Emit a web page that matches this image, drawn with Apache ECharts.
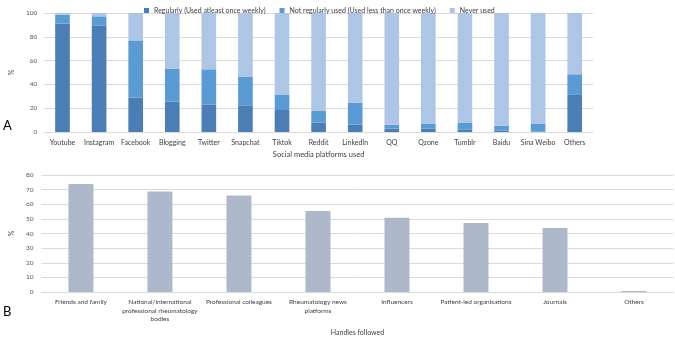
<!DOCTYPE html>
<html>
<head>
<meta charset="utf-8">
<script src="https://cdn.jsdelivr.net/npm/echarts@6/dist/echarts.min.js"></script>
<style>
  html, body { margin: 0; padding: 0; background: #fff; }
  #main { width: 675px; height: 337px; }
</style>
</head>
<body>
<div id="main"></div>
<script>
// panel A
const platforms = ['Youtube', 'Instagram', 'Facebook', 'Blogging', 'Twitter', 'Snapchat', 'Tiktok', 'Reddit', 'LinkedIn', 'QQ', 'Qzone', 'Tumblr', 'Baidu', 'Sina Weibo', 'Others']
const regularly = [91, 89.4, 28.9, 25.5, 23.2, 22.4, 18.5, 7.8, 6.2, 2.8, 2.8, 2.2, 1.1, 0.4, 31.7]
const notRegularly = [7.6, 7.8, 48.1, 27.7, 29.5, 23.8, 12.6, 9.8, 18.4, 3.4, 3.9, 5.4, 4.2, 6.3, 16.8]
const neverUsed = [1.4, 2.8, 23, 46.8, 47.3, 53.8, 68.9, 82.4, 75.4, 93.8, 93.3, 92.4, 94.7, 93.3, 51.5]

// panel B
const handles = ['Friends and family', 'National/international\nprofessional rheumatology\nbodies', 'Professional colleagues', 'Rheumatology news\nplatforms', 'Influencers', 'Patient-led organisations', 'Journals', 'Others']
const followed = [73.8, 68.7, 66, 55.3, 50.7, 47.1, 43.8, 0.7]

const font = 'Lato'
const txt = '#404040'

const chart = echarts.init(document.getElementById('main'))

function stack(name, data, color) {
  return {
    name: name,
    type: 'bar',
    stack: 'a',
    xAxisIndex: 0,
    yAxisIndex: 0,
    barWidth: '40%',
    itemStyle: { color: color },
    data: data
  }
}

chart.setOption({
  animation: false,
  textStyle: { fontFamily: font },
  legend: {
    top: 2,
    left: 139,
    itemWidth: 5,
    itemHeight: 5,
    itemGap: 14,
    icon: 'rect',
    textStyle: { fontSize: 7, color: txt, fontFamily: font },
    data: ['Regularly (Used atleast once weekly)', 'Not regularly used (Used less than once weekly)', 'Never used']
  },
  grid: [
    { left: 29, right: 82, top: 13, height: 119 },
    { left: 25.5, right: 1.5, top: 175, height: 120 }
  ],
  xAxis: [
    {
      gridIndex: 0,
      type: 'category',
      data: platforms,
      name: 'Social media platforms used',
      nameLocation: 'middle',
      nameGap: 19,
      nameTextStyle: { fontSize: 7.5, color: txt },
      axisTick: { show: false },
      axisLine: { lineStyle: { color: '#d9d9d9' } },
      axisLabel: { fontSize: 7, color: txt, margin: 7, interval: 0 }
    },
    {
      gridIndex: 1,
      type: 'category',
      data: handles,
      name: 'Handles followed',
      nameLocation: 'middle',
      nameGap: 37,
      nameTextStyle: { fontSize: 7, color: txt },
      axisTick: { show: false },
      axisLine: { lineStyle: { color: '#d9d9d9' } },
      axisLabel: { fontSize: 6.5, color: txt, margin: 6, interval: 0, lineHeight: 8.5 }
    }
  ],
  yAxis: [
    {
      gridIndex: 0,
      type: 'value',
      min: 0,
      max: 100,
      interval: 20,
      name: '%',
      nameLocation: 'middle',
      nameRotate: 90,
      nameGap: 22,
      nameTextStyle: { fontSize: 7, color: txt },
      axisLabel: { fontSize: 6.5, color: '#595959', margin: 7 },
      splitLine: { lineStyle: { color: '#d9d9d9' } }
    },
    {
      gridIndex: 1,
      type: 'value',
      min: 0,
      max: 80,
      interval: 10,
      name: '%',
      nameLocation: 'middle',
      nameRotate: 90,
      nameGap: 19,
      nameTextStyle: { fontSize: 7, color: txt },
      axisLabel: { fontSize: 6.5, color: '#595959', margin: 8 },
      splitLine: { lineStyle: { color: '#d9d9d9' } }
    }
  ],
  series: [
    stack('Regularly (Used atleast once weekly)', regularly, '#4a7eb4'),
    stack('Not regularly used (Used less than once weekly)', notRegularly, '#5b9bd5'),
    stack('Never used', neverUsed, '#adc6e6'),
    {
      type: 'bar',
      xAxisIndex: 1,
      yAxisIndex: 1,
      barWidth: 25,
      itemStyle: { color: '#adb9ca' },
      data: followed
    }
  ],
  graphic: [
    { type: 'text', left: 3, top: 119, style: { text: 'A', fontSize: 13, fill: '#000', fontFamily: font } },
    { type: 'text', left: 3, top: 305, style: { text: 'B', fontSize: 13, fill: '#000', fontFamily: font } }
  ]
})
</script>
</body>
</html>
